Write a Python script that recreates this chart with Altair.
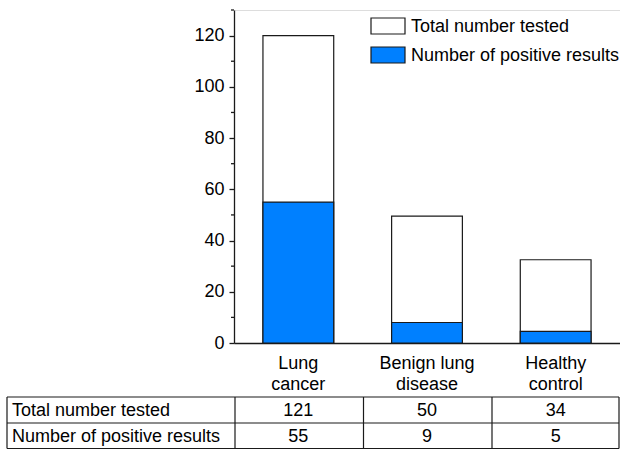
import json
import altair as alt
import pandas as pd

# ---------------- data ----------------
categories = ["Lung cancer", "Benign lung disease", "Healthy control"]
category_lines = [["Lung", "cancer"], ["Benign lung", "disease"], ["Healthy", "control"]]
series_names = ["Total number tested", "Number of positive results"]
# values printed in the table
total_tested = [121, 50, 34]
positive_results = [55, 9, 5]
# bar heights as drawn in the chart
total_bar = [120, 49.5, 32.5]
positive_bar = [55, 8, 4.5]
y_ticks = [0, 20, 40, 60, 80, 100, 120]
y_minor_ticks = [10, 30, 50, 70, 90, 110, 130]

FONT = "Liberation Sans"
W, H = 386, 333
BLUE = "#0080ff"
INK = "#1a1a1a"

bars_df = pd.DataFrame({
    "category": categories * 2,
    "series": [series_names[0]] * 3 + [series_names[1]] * 3,
    "value": total_bar + positive_bar,
})
table_df = pd.DataFrame({"category": categories, "total": total_tested, "positive": positive_results})
minor_df = pd.DataFrame({"v": y_minor_ticks})

label_map = json.dumps(dict(zip(categories, category_lines)))

xscale = alt.Scale(domain=categories, paddingInner=0.45, paddingOuter=0.225)
yscale = alt.Scale(domain=[0, 130], nice=False)
color_scale = alt.Scale(domain=series_names, range=["#ffffff", BLUE])

x_axis = alt.Axis(title=None, labelExpr=f"{label_map}[datum.label]", ticks=False, labelAngle=0,
                  labelFontSize=18, labelFont=FONT, labelColor="black", labelPadding=11,
                  labelLineHeight=21, domainColor=INK, domainWidth=1.3, grid=False)
y_axis = alt.Axis(title=None, values=y_ticks, tickSize=5, tickColor=INK, tickWidth=1.3,
                  labelFontSize=18, labelFont=FONT, labelColor="black", labelPadding=5,
                  domainColor=INK, domainWidth=1.3, grid=False)

x_enc = alt.X("category:N", scale=xscale, sort=categories, axis=x_axis)

bars = alt.Chart(bars_df).mark_bar(stroke=INK, strokeWidth=1.2).encode(
    x=x_enc,
    y=alt.Y("value:Q", scale=yscale, stack=None, axis=y_axis),
    color=alt.Color("series:N", scale=color_scale, legend=None),
)

minor = alt.Chart(minor_df).mark_rule(color=INK, strokeWidth=1.3).encode(
    y=alt.Y("v:Q", scale=yscale, axis=y_axis),
    x=alt.value(-3), x2=alt.value(0),
)

layers = [bars, minor]

# legend (manual)
leg_y = [(8, 24), (37, 53)]
for name, (y1, y2) in zip(series_names, leg_y):
    d = pd.DataFrame({"series": [name]})
    layers.append(alt.Chart(d).mark_rect(stroke=INK, strokeWidth=1.2).encode(
        x=alt.value(137), x2=alt.value(171), y=alt.value(y1), y2=alt.value(y2),
        color=alt.Color("series:N", scale=color_scale, legend=None)))
    layers.append(alt.Chart(d).mark_text(align="left", baseline="middle", fontSize=18, font=FONT,
                                         color="black").encode(
        x=alt.value(177), y=alt.value((y1 + y2) / 2 + 1), text="series:N"))

# table
row_y = [401, 426.5]
for field, name, ry in zip(["total", "positive"], series_names, row_y):
    layers.append(alt.Chart(table_df).mark_text(fontSize=18, font=FONT, color="black",
                                                baseline="middle").encode(
        x=x_enc, y=alt.value(ry), text=f"{field}:Q"))
    layers.append(alt.Chart(pd.DataFrame({"label": [name]})).mark_text(
        align="left", baseline="middle", fontSize=18, font=FONT, color="black").encode(
        x=alt.value(-222), y=alt.value(ry), text="label:N"))

T_TOP, T_MID, T_BOT = 387, 413, 438.5
T_LEFT, T_RIGHT = -227, 385
for yy in [T_TOP, T_MID, T_BOT]:
    layers.append(alt.Chart(minor_df.head(1)).mark_rule(color=INK, strokeWidth=1.2).encode(
        x=alt.value(T_LEFT), x2=alt.value(T_RIGHT), y=alt.value(yy)))
for xx in [T_LEFT, 1, 129.5, 258, T_RIGHT]:
    layers.append(alt.Chart(minor_df.head(1)).mark_rule(color=INK, strokeWidth=1.2).encode(
        x=alt.value(xx), y=alt.value(T_TOP), y2=alt.value(T_BOT)))

chart = alt.layer(*layers).properties(
    width=W, height=H,
    autosize=alt.AutoSizeParams(type="none"),
    padding={"left": 234, "top": 10, "right": 0, "bottom": 107},
).configure_view(stroke=None).configure(font=FONT)

chart.save("out.html", embed_options={"renderer": "svg", "actions": False})
